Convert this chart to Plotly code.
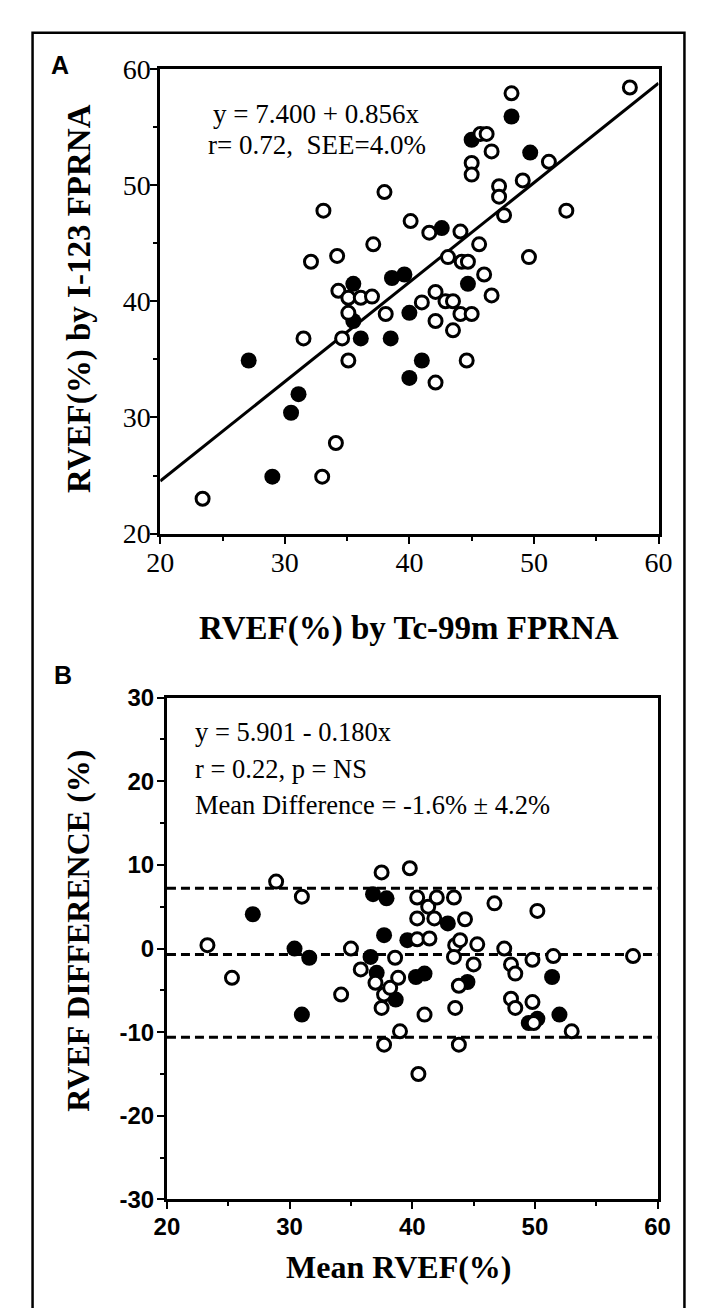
import plotly.graph_objects as go

W, H = 701, 1308

# ---------------- Panel A data (Tc-99m vs I-123 RVEF) ----------------
a_open_x = [23.4, 33.0, 34.1, 31.5, 34.6, 35.1, 32.1, 33.1, 34.2, 34.3, 35.1, 36.1,
            37.0, 35.1, 37.1, 38.0, 38.1, 40.1, 41.0, 41.6, 42.1, 42.1, 42.1, 42.9,
            43.1, 43.5, 43.5, 44.1, 44.2, 44.7, 44.1, 45.0, 44.6, 45.0, 45.0, 45.7,
            46.2, 45.6, 46.0, 46.6, 46.6, 47.2, 47.2, 47.6, 48.2, 49.1, 49.6, 51.2,
            52.6, 57.7]
a_open_y = [23.0, 24.9, 27.8, 36.8, 36.8, 34.9, 43.4, 47.8, 43.9, 40.9, 40.3, 40.3,
            40.4, 39.0, 44.9, 49.4, 38.9, 46.9, 39.9, 45.9, 40.8, 38.3, 33.0, 40.0,
            43.8, 37.5, 40.0, 46.0, 43.4, 43.4, 38.9, 38.9, 34.9, 51.9, 50.9, 54.4,
            54.4, 44.9, 42.3, 40.5, 52.9, 49.9, 49.0, 47.4, 57.9, 50.4, 43.8, 52.0,
            47.8, 58.4]
a_fill_x = [27.1, 29.0, 30.5, 31.1, 35.5, 35.5, 36.1, 38.5, 38.6, 39.6, 40.0, 40.0,
            41.0, 42.6, 44.7, 45.0, 48.2, 49.7]
a_fill_y = [34.9, 24.9, 30.4, 32.0, 41.5, 38.3, 36.8, 36.8, 42.0, 42.3, 39.0, 33.4,
            34.9, 46.3, 41.5, 53.9, 55.9, 52.8]
a_intercept = 7.400
a_slope = 0.856
a_line_x = [20, 60]
a_ticks = [20, 30, 40, 50, 60]

# ---------------- Panel B data (Bland-Altman) ----------------
b_open_x = [23.3, 25.3, 28.9, 31.0, 34.2, 35.0, 35.8, 37.0, 37.5, 37.5, 37.7, 37.7,
            38.2, 38.6, 38.85, 39.0, 39.8, 40.4, 40.4, 40.4, 40.5, 41.0, 41.3, 41.4,
            41.8, 42.0, 43.4, 43.5, 43.9, 43.4, 43.5, 43.8, 43.8, 44.3, 45.0, 45.3,
            46.7, 47.5, 48.05, 48.4, 48.05, 48.4, 49.8, 49.8, 49.9, 50.2, 51.5, 53.0,
            58.0]
b_open_y = [0.4, -3.5, 8.0, 6.2, -5.5, 0.0, -2.5, -4.1, 9.1, -7.1, -5.5, -11.5,
            -4.7, -1.1, -3.5, -9.9, 9.6, 6.1, 3.6, 1.1, -15.0, -7.9, 5.0, 1.2,
            3.6, 6.1, 6.1, 0.4, 1.0, -1.0, -7.1, -4.45, -11.5, 3.5, -1.9, 0.5,
            5.4, 0.0, -1.9, -3.0, -6.0, -7.1, -1.35, -6.4, -8.9, 4.5, -0.9, -9.9,
            -0.9]
b_fill_x = [27.0, 30.4, 31.6, 31.0, 36.6, 36.8, 37.9, 37.7, 37.1, 38.65, 39.6, 40.3,
            41.0, 42.9, 44.5, 49.5, 50.2, 51.4, 52.0]
b_fill_y = [4.1, 0.0, -1.1, -7.9, -1.0, 6.5, 6.0, 1.6, -2.9, -6.1, 1.0, -3.4,
            -3.0, 3.0, -4.0, -8.9, -8.4, -3.4, -7.9]
b_ref_levels = [7.2, -0.7, -10.6]
b_xticks = [20, 30, 40, 50, 60]
b_yticks = [-30, -20, -10, 0, 10, 20, 30]
b_yticktext = ["-30", "-20", "-10", "0", "10", "20", "30"]


def px(x):
    return x / W


def py(y):
    return 1 - y / H


SERIF = "Liberation Serif"
SANS = "Liberation Sans"

open_marker = dict(symbol="circle", size=13, color="white",
                   line=dict(color="black", width=3))
fill_marker = dict(symbol="circle", size=16, color="black",
                   line=dict(color="black", width=0))

fig = go.Figure()

# Panel A
fig.add_trace(go.Scatter(x=a_line_x, y=[a_intercept + a_slope * v for v in a_line_x],
                         mode="lines", line=dict(color="black", width=3),
                         xaxis="x", yaxis="y", showlegend=False, hoverinfo="skip"))
fig.add_trace(go.Scatter(x=a_fill_x, y=a_fill_y, mode="markers", marker=fill_marker,
                         xaxis="x", yaxis="y", showlegend=False, cliponaxis=False))
fig.add_trace(go.Scatter(x=a_open_x, y=a_open_y, mode="markers", marker=open_marker,
                         xaxis="x", yaxis="y", showlegend=False, cliponaxis=False))

# Panel B
for lvl in b_ref_levels:
    fig.add_trace(go.Scatter(x=[20, 60], y=[lvl, lvl], mode="lines",
                             line=dict(color="black", width=3, dash="9px,5px"),
                             xaxis="x2", yaxis="y2", showlegend=False, hoverinfo="skip"))
fig.add_trace(go.Scatter(x=b_fill_x, y=b_fill_y, mode="markers", marker=fill_marker,
                         xaxis="x2", yaxis="y2", showlegend=False, cliponaxis=False))
fig.add_trace(go.Scatter(x=b_open_x, y=b_open_y, mode="markers", marker=open_marker,
                         xaxis="x2", yaxis="y2", showlegend=False, cliponaxis=False))

axis_common = dict(showline=True, mirror=True, linecolor="black", linewidth=3,
                   ticks="outside", ticklen=7, tickwidth=2, tickcolor="black",
                   showgrid=False, zeroline=False, tickmode="array",
                   minor=dict(ticks="outside", ticklen=4, tickwidth=2,
                              tickcolor="black", dtick=5, tick0=0, showgrid=False))

serif_tick = dict(family=SERIF, size=28, color="black")
sans_tick = dict(family=SANS, size=24, color="black", weight="bold")

fig.update_layout(
    width=W, height=H,
    margin=dict(l=0, r=0, t=0, b=0),
    paper_bgcolor="white", plot_bgcolor="white",
    xaxis=dict(axis_common, domain=[px(144), px(663)], range=[20, 60],
               tickvals=a_ticks, ticktext=[str(t) for t in a_ticks],
               tickfont=serif_tick, anchor="y", ticklabelstandoff=-5),
    yaxis=dict(axis_common, domain=[py(523), py(47)], range=[20, 60],
               tickvals=a_ticks, ticktext=[str(t) for t in a_ticks],
               tickfont=serif_tick, anchor="x", ticklabelstandoff=-6),
    xaxis2=dict(axis_common, domain=[px(151), px(662)], range=[20, 60],
                tickvals=b_xticks, ticktext=[str(t) for t in b_xticks],
                tickfont=sans_tick, anchor="y2", ticklabelstandoff=-3),
    yaxis2=dict(axis_common, domain=[py(1205), py(691)], range=[-30, 30],
                tickvals=b_yticks, ticktext=b_yticktext,
                tickfont=sans_tick, anchor="x2", ticklabelstandoff=-2),
)

ann = []


def text(x, y, s, size, family=SERIF, weight="normal", xanchor="left",
         yanchor="middle", angle=0):
    ann.append(dict(x=px(x), y=py(y), xref="paper", yref="paper", text=s,
                    showarrow=False, xanchor=xanchor, yanchor=yanchor,
                    textangle=angle,
                    font=dict(family=family, size=size, color="black",
                              weight=weight)))


# Panel letters
text(40, 43, "A", 25, family=SANS, weight="bold", xanchor="center")
text(43, 668, "B", 25, family=SANS, weight="bold", xanchor="center")

# Panel A statistics
text(197, 93, "y = 7.400 + 0.856x", 27)
text(192, 125, "r= 0.72,\u00a0 SEE=4.0%", 27)

# Panel A axis titles
text(403, 620, "RVEF(%) by Tc-99m FPRNA", 33, weight="bold", xanchor="center")
text(60, 282, "RVEF(%) by I-123 FPRNA", 33, weight="bold", xanchor="center",
     angle=-90)

# Panel B statistics
text(178, 726, "y = 5.901 - 0.180x", 26.5)
text(178, 764, "r = 0.22, p = NS", 26.5)
text(178, 801, "Mean Difference = -1.6% \u00b1 4.2%", 26.5)

# Panel B axis titles
text(393, 1274, "Mean RVEF(%)", 32, weight="bold", xanchor="center")
text(58, 930, "RVEF DIFFERENCE (%)", 32, weight="bold", xanchor="center",
     angle=-90)

fig.update_layout(annotations=ann)

# Outer frame around the figure
fig.add_shape(type="rect", xref="paper", yref="paper",
              x0=px(11), x1=px(690), y0=-0.02, y1=py(10),
              line=dict(color="black", width=2.5), fillcolor="rgba(0,0,0,0)",
              layer="below")

fig.write_html("out.html")
